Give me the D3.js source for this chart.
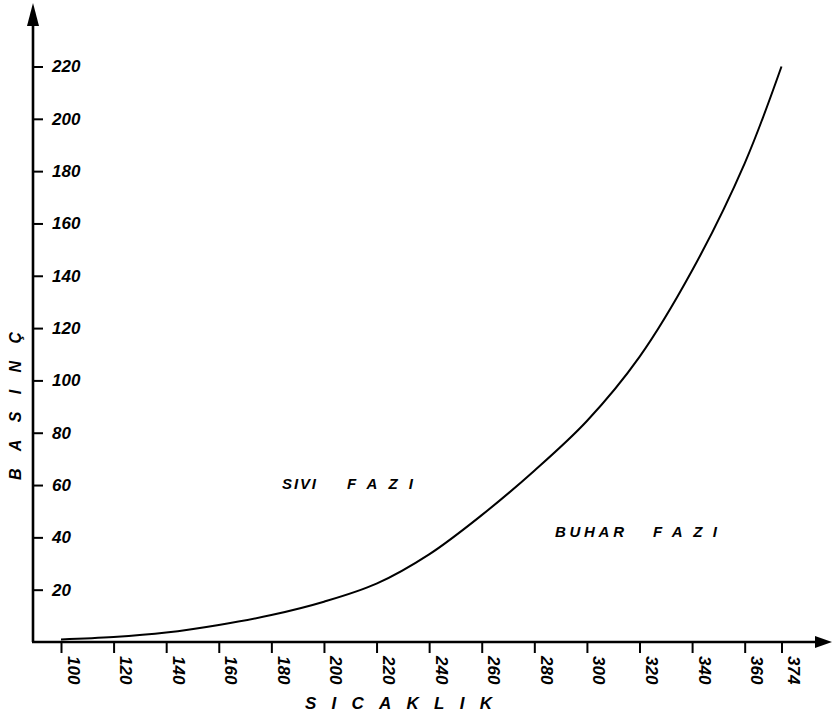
<!DOCTYPE html>
<html>
<head>
<meta charset="utf-8">
<script src="https://cdn.jsdelivr.net/npm/d3@7"></script>
<style>
  html, body { margin: 0; padding: 0; background: #fff; }
  svg { display: block; }
  text { font-family: "Liberation Sans", Arial, sans-serif; fill: #000; }
</style>
</head>
<body>
<svg id="chart" width="832" height="720"></svg>
<script>
// ---- Data ----
const temperatures = [100, 120, 140, 160, 180, 200, 220, 240, 260, 280, 300, 320, 340, 360, 374];
const pressures    = [1.0, 1.9, 3.6, 6.5, 10.3, 15.4, 22.3, 33.5, 48.5, 65.5, 84.5, 109, 142, 183, 220];
const xTickValues  = [100, 120, 140, 160, 180, 200, 220, 240, 260, 280, 300, 320, 340, 360, 374];
const yTickValues  = [20, 40, 60, 80, 100, 120, 140, 160, 180, 200, 220];
const xTitle = "SICAKLIK";
const yTitle = "BASINÇ";

// ---- Layout ----
const svg = d3.select("#chart");
const originX = 33, originY = 642;
const x = d3.scaleLinear().domain([100, 374]).range([61, 781.5]);
const y = d3.scaleLinear().domain([0, 220]).range([originY, 66.5]);

// Axis lines
svg.append("line").attr("x1", originX).attr("y1", originY).attr("x2", originX).attr("y2", 14)
  .attr("stroke", "#000").attr("stroke-width", 2.6);
svg.append("line").attr("x1", originX - 1).attr("y1", originY).attr("x2", 820).attr("y2", originY)
  .attr("stroke", "#000").attr("stroke-width", 2.6);
// Arrowheads
svg.append("path").attr("d", `M${originX},3 L${originX - 6},26 L${originX + 6},26 Z`).attr("fill", "#000");
svg.append("path").attr("d", `M832,${originY} L815,${originY - 6} L815,${originY + 6} Z`).attr("fill", "#000");

// Y axis (ticks to the right of the axis line)
const yAxis = d3.axisRight(y).tickValues(yTickValues).tickSize(10).tickPadding(9);
const gy = svg.append("g").attr("transform", `translate(${originX},0)`).call(yAxis);
gy.select(".domain").remove();
gy.selectAll(".tick line").attr("stroke", "#000").attr("stroke-width", 2);
gy.selectAll(".tick text")
  .attr("font-size", 17).attr("font-style", "italic").attr("font-weight", "bold")
  .attr("font-family", "Liberation Sans, Arial, sans-serif").attr("fill", "#000");

// X axis (ticks below, labels rotated)
const xAxis = d3.axisBottom(x).tickValues(xTickValues).tickSize(11).tickFormat(d3.format("d"));
const gx = svg.append("g").attr("transform", `translate(0,${originY})`).call(xAxis);
gx.select(".domain").remove();
gx.selectAll(".tick line").attr("stroke", "#000").attr("stroke-width", 2);
gx.selectAll(".tick text")
  .attr("font-size", 17).attr("font-style", "italic").attr("font-weight", "bold")
  .attr("font-family", "Liberation Sans, Arial, sans-serif").attr("fill", "#000")
  .attr("text-anchor", "start").attr("dy", null)
  .attr("transform", "translate(6,14) rotate(90)")
  .attr("x", 0).attr("y", 0);

// Curve
const pts = temperatures.map((t, i) => [t, pressures[i]]);
svg.append("path")
  .datum(pts)
  .attr("fill", "none").attr("stroke", "#000").attr("stroke-width", 2)
  .attr("d", d3.line().x(d => x(d[0])).y(d => y(d[1])).curve(d3.curveCatmullRom.alpha(0.5)));

// Axis titles
svg.append("text").text(xTitle)
  .attr("x", 305).attr("y", 709)
  .attr("font-size", 17).attr("font-weight", "bold").attr("font-style", "italic")
  .attr("textLength", 187).attr("lengthAdjust", "spacing");
svg.append("text").text(yTitle)
  .attr("transform", "translate(21,480) rotate(-90)")
  .attr("font-size", 16).attr("font-weight", "bold").attr("font-style", "italic")
  .attr("textLength", 148).attr("lengthAdjust", "spacing");

// Region labels
const lbl = (t, x0, y0, len) => svg.append("text").text(t).attr("x", x0).attr("y", y0)
  .attr("font-size", 15).attr("font-weight", "bold").attr("font-style", "italic")
  .attr("textLength", len).attr("lengthAdjust", "spacing");
lbl("SIVI", 282, 489, 34);
lbl("FAZI", 347, 489, 66);
lbl("BUHAR", 555, 537, 69);
lbl("FAZI", 653, 537, 64);
</script>
</body>
</html>
